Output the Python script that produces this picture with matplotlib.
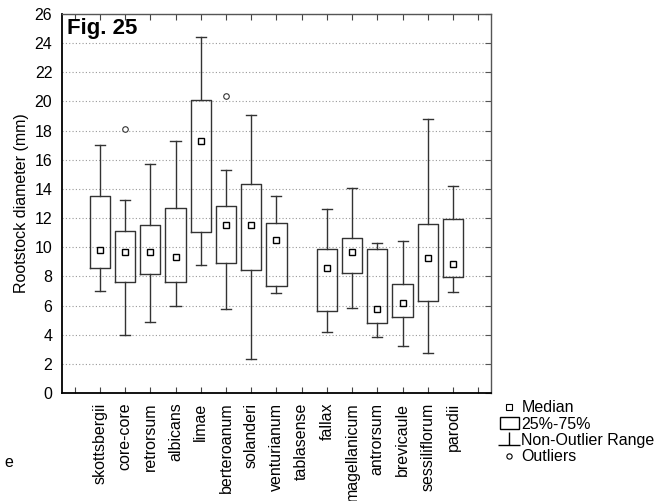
import matplotlib
matplotlib.use("Agg")
import matplotlib.pyplot as plt
from matplotlib.lines import Line2D
from matplotlib.patches import Rectangle
from matplotlib.path import Path

plt.rcParams['font.family'] = ['Liberation Sans', 'DejaVu Sans']

# rootstock diameter (mm) per taxon; tablasense has no measurements
species = ["skottsbergii", "core-core", "retrorsum", "albicans", "limae",
           "berteroanum", "solanderi", "venturianum", "tablasense", "fallax",
           "magellanicum", "antrorsum", "brevicaule", "sessiliflorum", "parodii"]
whis_lo = [7.0, 4.0, 4.9, 5.95, 8.75, 5.75, 2.35, 6.85, None, 4.15, 5.85, 3.85, 3.2, 2.75, 6.95]
q1 = [8.6, 7.6, 8.15, 7.6, 11.05, 8.9, 8.45, 7.35, None, 5.6, 8.2, 4.8, 5.2, 6.3, 7.95]
medians = [9.8, 9.7, 9.65, 9.3, 17.3, 11.5, 11.5, 10.5, None, 8.6, 9.65, 5.75, 6.2, 9.25, 8.85]
q3 = [13.5, 11.1, 11.55, 12.7, 20.1, 12.85, 14.35, 11.65, None, 9.85, 10.6, 9.85, 7.45, 11.6, 11.95]
whis_hi = [17.0, 13.25, 15.7, 17.3, 24.4, 15.3, 19.05, 13.5, None, 12.6, 14.05, 10.3, 10.4, 18.8, 14.2]
outliers = {"core-core": [18.1], "berteroanum": [20.4]}

edge = '#333333'

fig = plt.figure(figsize=(6.69, 5.01), dpi=100)
ax = fig.add_axes([0.0927, 0.2156, 0.641, 0.7565])

stats, pos = [], []
for i, name in enumerate(species):
    if medians[i] is None:
        continue
    stats.append(dict(med=medians[i], q1=q1[i], q3=q3[i],
                      whislo=whis_lo[i], whishi=whis_hi[i],
                      fliers=outliers.get(name, [])))
    pos.append(i + 1)

ax.bxp(stats, positions=pos, widths=0.8, showfliers=True,
       boxprops=dict(color=edge, linewidth=1.0),
       whiskerprops=dict(color=edge, linewidth=1.0),
       capprops=dict(color=edge, linewidth=1.0),
       medianprops=dict(linewidth=0),
       flierprops=dict(marker='o', markersize=4, markerfacecolor='white',
                       markeredgecolor=edge, markeredgewidth=0.8))

# medians as open squares
ax.plot(pos, [s['med'] for s in stats], 's', markersize=4.6,
        markerfacecolor='white', markeredgecolor='black', markeredgewidth=1.0,
        linestyle='none', zorder=5)

ax.set_xlim(-0.5, 16.5)
ax.set_ylim(0, 26)
ax.set_yticks(range(0, 27, 2))
ax.set_xticks(range(0, 17))
ax.set_xticklabels([''] + species + [''], rotation=90)
ax.tick_params(axis='x', direction='in', length=4, top=True, pad=7, labelsize=11.5, color='#444444')
ax.tick_params(axis='y', direction='in', left=False, right=True, length=4,
               pad=7, labelsize=11.5, color='#555555')
ax.yaxis.grid(True, linestyle=(0, (1, 2)), color='#999999', linewidth=0.8)
ax.set_axisbelow(True)
for side in ('left', 'bottom'):
    ax.spines[side].set_color('black')
    ax.spines[side].set_linewidth(1.3)
for side in ('top', 'right'):
    ax.spines[side].set_color('#555555')
    ax.spines[side].set_linewidth(1.0)

ax.set_ylabel('Rootstock diameter (mm)', fontsize=11.5, labelpad=4)
ax.text(0.012, 0.99, 'Fig. 25', transform=ax.transAxes, fontsize=16,
        fontweight='bold', va='top', ha='left')

whisker_sym = Path([(0, 0.6), (0, -0.5), (-0.9, -0.5), (0.9, -0.5)],
                   [Path.MOVETO, Path.LINETO, Path.MOVETO, Path.LINETO])
handles = [
    Line2D([], [], marker='s', linestyle='none', markersize=4,
           markerfacecolor='white', markeredgecolor='black', markeredgewidth=0.8),
    Rectangle((0, 0), 1, 1, facecolor='white', edgecolor='black', linewidth=1.0),
    Line2D([], [], marker=whisker_sym, linestyle='none', markersize=16,
           markeredgecolor='black', markeredgewidth=1.0),
    Line2D([], [], marker='o', linestyle='none', markersize=3.8,
           markerfacecolor='white', markeredgecolor='black', markeredgewidth=0.8),
]
labels = ['Median', '25%-75%', 'Non-Outlier Range', 'Outliers']
fig.legend(handles, labels, loc='upper left', bbox_to_anchor=(0.747, 0.201),
           frameon=False, fontsize=11.5, handlelength=1.2, handletextpad=0.15,
           labelspacing=0.08, borderaxespad=0, borderpad=0)

fig.text(0.006, 0.068, 'e', fontsize=11.5)

fig.savefig('out.png', dpi=100)
